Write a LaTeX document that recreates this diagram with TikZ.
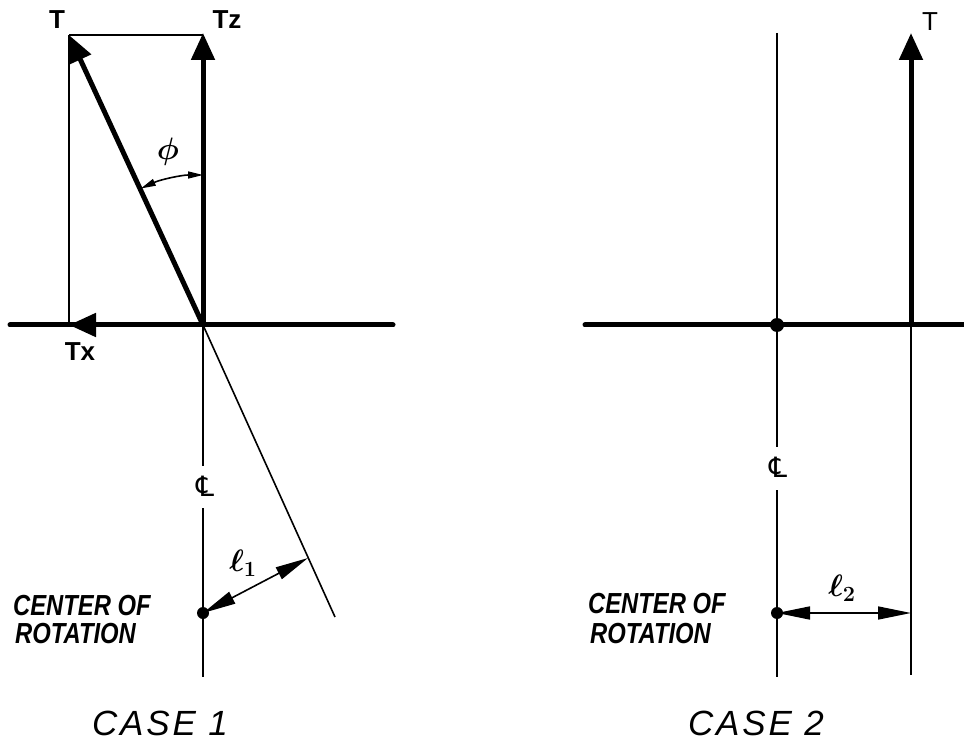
\RequirePackage{fix-cm}
\documentclass[tikz,border=0pt]{standalone}
\usepackage{fontspec}
\setmainfont{Liberation Sans}
\newfontfamily\clfont{DejaVu Sans}
\usetikzlibrary{arrows.meta}
\begin{document}
\begin{tikzpicture}[x=1pt,y=-1pt,
  thickln/.style={line width=5pt},
  thinln/.style={line width=1.6pt},
  bigtip/.style={-{Triangle[length=27pt,width=23pt]}},
  dimtips/.style={{Triangle[length=33pt,width=13pt]}-{Triangle[length=33pt,width=13pt]}},
  phitips/.style={{Triangle[length=15pt,width=7pt]}-{Triangle[length=15pt,width=7pt]}},
  lab/.style={font=\bfseries\fontsize{26}{26}\selectfont, inner sep=0pt},
  labthin/.style={font=\fontsize{26}{26}\selectfont, inner sep=0pt},
  hand/.style={font=\bfseries\itshape\addfontfeature{FakeStretch=0.82}\fontsize{29}{29}\selectfont, inner sep=0pt, anchor=base west},
  casel/.style={font=\itshape\addfontfeature{LetterSpace=8}\fontsize{35}{35}\selectfont, inner sep=0pt, anchor=base west},
  cl/.style={font=\clfont\fontsize{28}{28}\selectfont, inner sep=0pt},
  mlab/.style={font=\boldmath\fontsize{31}{31}\selectfont, inner sep=0pt},
  dot/.style={circle, fill=black, inner sep=0pt}
  ]
\useasboundingbox (0,0) rectangle (964,743);

% ---------------- CASE 1 ----------------
\coordinate (O1) at (203,325);
\coordinate (AxL1) at (10,325);
\coordinate (AxR1) at (393,325);
\coordinate (Tz) at (203,33);
\coordinate (TzTop) at (203,35);
\coordinate (T1) at (69,35);
\coordinate (Tx) at (69,325);
\coordinate (CL1a) at (203,466);
\coordinate (CL1b) at (203,508);
\coordinate (CL1e) at (203,677);
\coordinate (Ext) at (335,617);
\coordinate (F1) at (308,558);
\coordinate (P1) at ([shift={(-114.5:150)}]O1);

% thin construction lines
\draw[thinln] (T1) -- (TzTop);
\draw[thinln] (T1) -- (Tx);
\draw[thinln] (O1) -- (Ext);
\draw[thinln] (O1) -- (CL1a);
\draw[thinln] (CL1b) -- (CL1e);

% axis and vectors
\draw[thickln, line cap=round] (AxL1) -- (AxR1);
\draw[thickln, bigtip] (O1) -- (Tx);
\draw[thickln, bigtip] (O1) -- (Tz);
\draw[thickln, bigtip] (O1) -- (T1);

% angle phi
\draw[thinln, phitips] (P1) arc[start angle=-114.5, end angle=-90, radius=150];
\node[mlab] (phi) at (168,152) {$\phi$};

% center of rotation
\node[dot, minimum size=12pt] (R1) at (203,613) {};
\draw[thinln, dimtips] (R1.center) -- (F1);
\node[mlab] (l1) at (243,563) {$\ell_1$};

\node[cl] (c1) at (205,486) {℄};

% labels
\node[lab] (labT1) at (57,20) {T};
\node[lab] (labTz) at (227,20) {Tz};
\node[lab] (labTx) at (80,352) {Tx};
\node[hand] (cen1) at (13,615) {CENTER OF};
\node[hand] (rot1) at (15,643) {ROTATION};
\node[casel] (case1) at (92,735) {CASE 1};

% ---------------- CASE 2 ----------------
\coordinate (AxL2) at (585,325);
\coordinate (AxR2) at (964,325);
\coordinate (CL2t) at (777,33);
\coordinate (CL2a) at (777,447);
\coordinate (CL2b) at (777,490);
\coordinate (CL2e) at (777,677);
\coordinate (B2) at (911,325);
\coordinate (T2) at (911,33);
\coordinate (B2e) at (911,675);
\coordinate (F2) at (911,613);

\draw[thinln] (CL2t) -- (CL2a);
\draw[thinln] (CL2b) -- (CL2e);
\draw[thinln] (B2) -- (B2e);
\draw[thickln, line cap=round] (AxL2) -- (AxR2);
\draw[thickln, bigtip] (B2) -- (T2);
\node[dot, minimum size=14pt] (O2) at (777,325) {};

\node[cl] (c2) at (778,467) {℄};

\node[dot, minimum size=12pt] (R2) at (777,613) {};
\draw[thinln, dimtips] (R2.center) -- (F2);
\node[mlab] (l2) at (842,588) {$\ell_2$};

\node[labthin] (labT2) at (930,22) {T};
\node[hand] (cen2) at (588,613) {CENTER OF};
\node[hand] (rot2) at (590,643) {ROTATION};
\node[casel] (case2) at (688,735) {CASE 2};
\end{tikzpicture}
\end{document}
